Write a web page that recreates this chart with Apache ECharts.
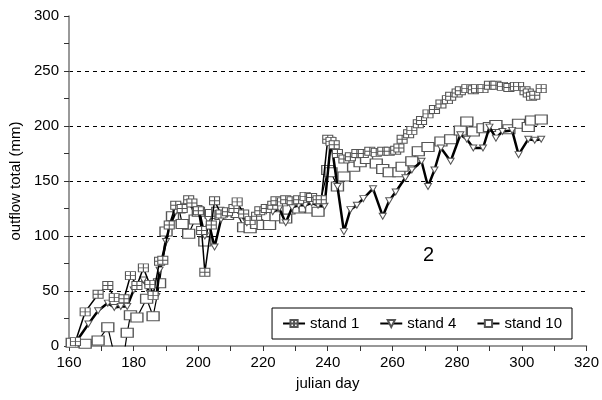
<!DOCTYPE html>
<html><head><meta charset="utf-8">
<script src="https://cdn.jsdelivr.net/npm/echarts@6/dist/echarts.min.js"></script>
<style>html,body{margin:0;padding:0;background:#fff}#c{width:602px;height:400px}</style>
</head><body><div id="c"></div>
<script>
const xTicks = [160,180,200,220,240,260,280,300,320];
const yTicks = [0,50,100,150,200,250,300];

const stand1Days = [162,165,169,172,174,177,179,181,183,185,186,188,189,191,193,195,197,198,200,201,202,204,205,207,209,211,212,214,216,218,219,221,223,224,226,227,229,231,233,235,237,238,240,241,242,243,245,247,249,251,253,255,257,259,261,262,263,265,266,268,269,271,273,275,277,278,280,281,283,285,286,288,290,292,294,296,298,299,301,302,303,304,306];
const stand1Vals = [4,31,47,55,44,43,64,55,71,56,46,77,78,110,128,125,133,130,123,105,67,110,132,120,122,125,131,120,114,118,123,125,128,132,131,133,132,133,136,135,133,133,188,186,183,175,170,172,175,175,177,176,177,177,178,180,188,193,196,202,205,211,215,220,224,227,230,232,234,233,234,234,237,237,236,235,236,236,232,230,227,228,234];

const stand4Days = [162,166,169,172,174,176,178,180,183,185,187,188,190,191,193,195,197,199,200,202,203,205,207,209,211,213,215,217,219,221,223,225,227,229,231,233,235,237,239,241,243,245,247,249,251,254,257,259,261,264,266,269,271,273,275,278,281,283,285,288,290,292,294,297,299,302,304,306];
const stand4Vals = [3,20,32,39,35,36,36,51,60,48,45,69,95,108,122,127,130,122,125,100,115,90,115,120,124,120,112,115,120,123,122,125,112,126,128,128,130,128,127,187,145,104,124,128,134,143,118,132,140,153,160,168,145,160,180,168,192,188,180,180,199,189,195,196,174,188,187,188];

const stand10Days = [161,165,169,172,174,177,178,179,181,184,186,188,190,192,194,195,197,199,200,202,204,206,207,209,212,214,216,218,220,222,224,227,228,231,233,235,237,240,241,243,245,248,250,252,255,257,259,262,263,266,268,271,275,278,281,283,285,288,290,292,296,299,302,303,306];
const stand10Vals = [3,2,5,17,-8,-8,12,28,26,43,27,57,104,118,125,111,102,115,122,95,120,122,119,119,121,108,107,111,110,110,118,116,124,125,126,125,122,160,158,145,154,163,167,170,166,161,158,158,163,168,177,181,186,188,196,204,195,198,199,201,197,202,199,205,206];

const zip = (d, v) => d.map((x, i) => [x, v[i]]);
const sym1 = 'path://M0,0H10V8H0ZM5,0V8M0,4H10';
const sym4 = 'path://M0,0H8L4,7Z';
const sym10 = 'path://M0,0H12V9H0Z';
const font = 'Liberation Sans';

const chart = echarts.init(document.getElementById('c'));
chart.setOption({
  animation: false,
  backgroundColor: '#fff',
  grid: {left: 68, right: 15, top: 16, bottom: 54},
  legend: {
    right: 30, top: 308, itemGap: 20,
    padding: [8, 10, 8, 10],
    borderColor: '#000', borderWidth: 1, backgroundColor: '#fff',
    itemWidth: 22, itemHeight: 9,
    textStyle: {fontFamily: font, fontSize: 15, color: '#000'},
    data: ['stand 1', 'stand 4', 'stand 10']
  },
  xAxis: {
    type: 'value', min: 160, max: 320, interval: 20,
    name: 'julian day', nameLocation: 'middle', nameGap: 30,
    nameTextStyle: {fontFamily: font, fontSize: 15, color: '#000'},
    axisLine: {lineStyle: {color: '#777', width: 1.5}},
    axisTick: {length: 5, lineStyle: {color: '#333'}},
    minorTick: {show: true, splitNumber: 2, length: 5, lineStyle: {color: '#333'}},
    axisLabel: {fontFamily: font, fontSize: 15, color: '#000', margin: 9},
    splitLine: {show: false}
  },
  yAxis: {
    type: 'value', min: 0, max: 300, interval: 50,
    name: 'outflow total (mm)', nameLocation: 'middle', nameGap: 46, nameRotate: 90,
    nameTextStyle: {fontFamily: font, fontSize: 15, color: '#000'},
    axisLine: {show: true, lineStyle: {color: '#777', width: 1.5}},
    axisTick: {show: true, length: 5, lineStyle: {color: '#333'}},
    minorTick: {show: true, splitNumber: 2, length: 5, lineStyle: {color: '#333'}},
    axisLabel: {fontFamily: font, fontSize: 15, color: '#000', margin: 10},
    splitLine: {show: true, showMinLine: false, showMaxLine: false, lineStyle: {color: '#000', type: [4, 4], width: 1}}
  },
  graphic: [{type: 'text', left: 423, top: 245, style: {text: '2', fontFamily: font, fontSize: 20, fill: '#000'}}],
  series: [
    {name: 'stand 10', type: 'line', data: zip(stand10Days, stand10Vals), z: 3,
     symbol: sym10, symbolSize: [12, 9], showAllSymbol: true,
     lineStyle: {color: '#000', width: 1.2},
     itemStyle: {color: '#fff', borderColor: '#555', borderWidth: 1.2}},
    {name: 'stand 4', type: 'line', data: zip(stand4Days, stand4Vals), z: 4,
     symbol: sym4, symbolSize: [7, 6], showAllSymbol: true,
     lineStyle: {color: '#000', width: 2.5},
     itemStyle: {color: '#fff', borderColor: '#555', borderWidth: 1}},
    {name: 'stand 1', type: 'line', data: zip(stand1Days, stand1Vals), z: 5,
     symbol: sym1, symbolSize: [10, 8], showAllSymbol: true,
     lineStyle: {color: '#000', width: 1.5},
     itemStyle: {color: '#fff', borderColor: '#555', borderWidth: 1}}
  ]
});
</script></body></html>
